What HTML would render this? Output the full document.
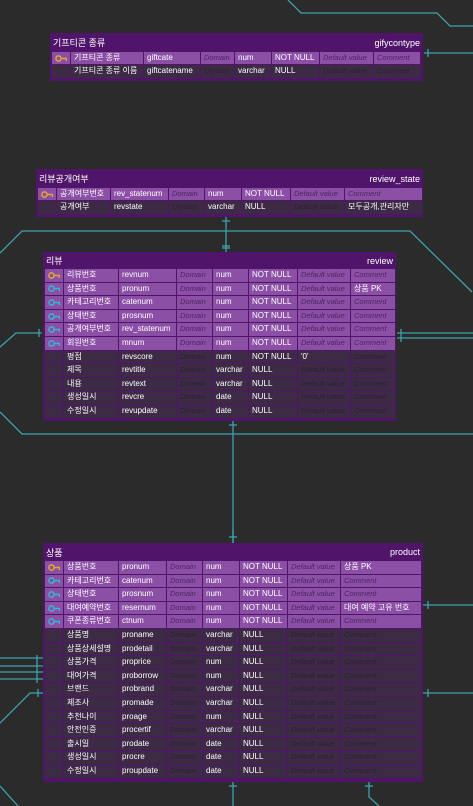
<!DOCTYPE html>
<html><head><meta charset="utf-8"><style>
body{margin:0;width:473px;height:806px;background:#2b2b2b;overflow:hidden;position:relative;font-family:"Liberation Sans","Noto Sans CJK KR",sans-serif;}
svg.c{position:absolute;left:0;top:0}
.t{position:absolute;background:#50156a;padding:0 2px 2px 2px;box-sizing:border-box}
.h{display:flex;justify-content:space-between;align-items:center;color:#fff;font-size:9px;padding:0 1px}
.g{display:grid;row-gap:1px;column-gap:1px}
.g b{font-weight:normal;font-size:8px;color:#fff;white-space:nowrap;overflow:hidden;padding-left:3px;line-height:12.6px;background:#3d2b46}
.g b.k{background:#8c4fa6}
.g b.i{font-style:italic;color:#2d1e33;font-size:7.5px}
.g b.k.i{color:#4d2463}
.g b.ic{padding:0;display:flex;align-items:center;justify-content:center}
</style></head><body>
<svg class="c" width="473" height="806" stroke="#3aa3ad" stroke-width="1.3" fill="none">
<polyline points="288,0 301,13 437,13 450,26 473,26"/>
<line x1="424" y1="53" x2="473" y2="53"/><line x1="428" y1="49" x2="428" y2="57"/>
<line x1="226" y1="217" x2="226" y2="252"/><line x1="222" y1="221" x2="230" y2="221"/><line x1="222" y1="246" x2="230" y2="246"/><line x1="222" y1="248" x2="230" y2="248"/>
<polyline points="0,253 22,231 410,231 472,292"/>
<polyline points="0,347 16,333 42,333"/><line x1="39" y1="329" x2="39" y2="337"/>
<line x1="397" y1="333" x2="473" y2="333"/><line x1="397" y1="338" x2="473" y2="338"/><line x1="401" y1="329" x2="401" y2="342"/>
<line x1="233" y1="421" x2="233" y2="543"/><line x1="229" y1="425" x2="237" y2="425"/><line x1="229" y1="537" x2="237" y2="537"/>
<polyline points="0,412 22,434 473,434"/>
<line x1="0" y1="658" x2="43" y2="658"/><line x1="0" y1="666" x2="43" y2="666"/><line x1="0" y1="672" x2="43" y2="672"/><line x1="0" y1="679" x2="43" y2="679"/>
<line x1="37" y1="655" x2="37" y2="683"/>
<polyline points="0,723 30,693 43,693"/><line x1="38" y1="689" x2="38" y2="697"/>
<line x1="0" y1="786" x2="18" y2="806"/>
<line x1="423" y1="605" x2="473" y2="605"/><line x1="428" y1="601" x2="428" y2="609"/>
<line x1="423" y1="693" x2="473" y2="693"/><line x1="428" y1="689" x2="428" y2="697"/>
<line x1="233" y1="782" x2="233" y2="806"/><line x1="229" y1="786" x2="237" y2="786"/>
<polyline points="369,782 369,797 379,806"/><line x1="365" y1="786" x2="373" y2="786"/>
<line x1="233" y1="530" x2="233" y2="543"/>
</svg>

<!-- gifycontype -->
<div class="t" style="left:50px;top:33px;width:373px;height:48px">
<div class="h" style="height:19px"><span>기프티콘 종류</span><span>gifycontype</span></div>
<div class="g" style="grid-template-columns:18px 72px 56px 33px 36px 47px 53px 46px;grid-auto-rows:12.3px">
<b class="k ic"><svg width="12" height="7"><circle cx="3.5" cy="3.5" r="2.6" fill="none" stroke="#e2a92c" stroke-width="1.5"/><path d="M6 3.5h5.5v2.5" stroke="#e2a92c" stroke-width="1.5" fill="none"/></svg></b><b class="k">기프티콘 종류</b><b class="k">giftcate</b><b class="k i">Domain</b><b class="k">num</b><b class="k">NOT NULL</b><b class="k i">Default value</b><b class="k i">Comment</b>
<b></b><b>기프티콘 종류 이름</b><b>giftcatename</b><b class="i">Domain</b><b>varchar</b><b>NULL</b><b class="i">Default value</b><b class="i">Comment</b>
</div></div>

<!-- review_state -->
<div class="t" style="left:36px;top:169px;width:387px;height:48px">
<div class="h" style="height:19px"><span>리뷰공개여부</span><span>review_state</span></div>
<div class="g" style="grid-template-columns:18px 53px 57px 35px 36px 48px 53px 77px;grid-auto-rows:12.3px">
<b class="k ic"><svg width="12" height="7"><circle cx="3.5" cy="3.5" r="2.6" fill="none" stroke="#e2a92c" stroke-width="1.5"/><path d="M6 3.5h5.5v2.5" stroke="#e2a92c" stroke-width="1.5" fill="none"/></svg></b><b class="k">공개여부번호</b><b class="k">rev_statenum</b><b class="k i">Domain</b><b class="k">num</b><b class="k">NOT NULL</b><b class="k i">Default value</b><b class="k i">Comment</b>
<b></b><b>공개여부</b><b>revstate</b><b class="i">Domain</b><b>varchar</b><b>NULL</b><b class="i">Default value</b><b>모두공개,관리자만</b>
</div></div>

<!-- review -->
<div class="t" style="left:43px;top:252px;width:353px;height:169px">
<div class="h" style="height:17px"><span>리뷰</span><span>review</span></div>
<div class="g" style="grid-template-columns:18px 54px 57px 35px 35px 48px 52px 44px;grid-auto-rows:12.6px">
<b class="k ic"><svg width="12" height="7"><circle cx="3.5" cy="3.5" r="2.6" fill="none" stroke="#e2a92c" stroke-width="1.5"/><path d="M6 3.5h5.5v2.5" stroke="#e2a92c" stroke-width="1.5" fill="none"/></svg></b><b class="k">리뷰번호</b><b class="k">revnum</b><b class="k i">Domain</b><b class="k">num</b><b class="k">NOT NULL</b><b class="k i">Default value</b><b class="k i">Comment</b>
<b class="k ic"><svg width="12" height="7"><circle cx="3.5" cy="3.5" r="2.6" fill="none" stroke="#35b7d6" stroke-width="1.5"/><path d="M6 3.5h5.5v2.5" stroke="#35b7d6" stroke-width="1.5" fill="none"/></svg></b><b class="k">상품번호</b><b class="k">pronum</b><b class="k i">Domain</b><b class="k">num</b><b class="k">NOT NULL</b><b class="k i">Default value</b><b class="k">상품 PK</b>
<b class="k ic"><svg width="12" height="7"><circle cx="3.5" cy="3.5" r="2.6" fill="none" stroke="#35b7d6" stroke-width="1.5"/><path d="M6 3.5h5.5v2.5" stroke="#35b7d6" stroke-width="1.5" fill="none"/></svg></b><b class="k">카테고리번호</b><b class="k">catenum</b><b class="k i">Domain</b><b class="k">num</b><b class="k">NOT NULL</b><b class="k i">Default value</b><b class="k i">Comment</b>
<b class="k ic"><svg width="12" height="7"><circle cx="3.5" cy="3.5" r="2.6" fill="none" stroke="#35b7d6" stroke-width="1.5"/><path d="M6 3.5h5.5v2.5" stroke="#35b7d6" stroke-width="1.5" fill="none"/></svg></b><b class="k">상태번호</b><b class="k">prosnum</b><b class="k i">Domain</b><b class="k">num</b><b class="k">NOT NULL</b><b class="k i">Default value</b><b class="k i">Comment</b>
<b class="k ic"><svg width="12" height="7"><circle cx="3.5" cy="3.5" r="2.6" fill="none" stroke="#35b7d6" stroke-width="1.5"/><path d="M6 3.5h5.5v2.5" stroke="#35b7d6" stroke-width="1.5" fill="none"/></svg></b><b class="k">공개여부번호</b><b class="k">rev_statenum</b><b class="k i">Domain</b><b class="k">num</b><b class="k">NOT NULL</b><b class="k i">Default value</b><b class="k i">Comment</b>
<b class="k ic"><svg width="12" height="7"><circle cx="3.5" cy="3.5" r="2.6" fill="none" stroke="#35b7d6" stroke-width="1.5"/><path d="M6 3.5h5.5v2.5" stroke="#35b7d6" stroke-width="1.5" fill="none"/></svg></b><b class="k">회원번호</b><b class="k">mnum</b><b class="k i">Domain</b><b class="k">num</b><b class="k">NOT NULL</b><b class="k i">Default value</b><b class="k i">Comment</b>
<b></b><b>평점</b><b>revscore</b><b class="i">Domain</b><b>num</b><b>NOT NULL</b><b>'0'</b><b class="i">Comment</b>
<b></b><b>제목</b><b>revtitle</b><b class="i">Domain</b><b>varchar</b><b>NULL</b><b class="i">Default value</b><b class="i">Comment</b>
<b></b><b>내용</b><b>revtext</b><b class="i">Domain</b><b>varchar</b><b>NULL</b><b class="i">Default value</b><b class="i">Comment</b>
<b></b><b>생성일시</b><b>revcre</b><b class="i">Domain</b><b>date</b><b>NULL</b><b class="i">Default value</b><b class="i">Comment</b>
<b></b><b>수정일시</b><b>revupdate</b><b class="i">Domain</b><b>date</b><b>NULL</b><b class="i">Default value</b><b class="i">Comment</b>
</div></div>

<!-- product -->
<div class="t" style="left:43px;top:543px;width:380px;height:239px">
<div class="h" style="height:18px"><span>상품</span><span>product</span></div>
<div class="g" style="grid-template-columns:18px 54px 47px 35px 36px 47px 52px 80px;grid-auto-rows:12.6px">
<b class="k ic"><svg width="12" height="7"><circle cx="3.5" cy="3.5" r="2.6" fill="none" stroke="#e2a92c" stroke-width="1.5"/><path d="M6 3.5h5.5v2.5" stroke="#e2a92c" stroke-width="1.5" fill="none"/></svg></b><b class="k">상품번호</b><b class="k">pronum</b><b class="k i">Domain</b><b class="k">num</b><b class="k">NOT NULL</b><b class="k i">Default value</b><b class="k">상품 PK</b>
<b class="k ic"><svg width="12" height="7"><circle cx="3.5" cy="3.5" r="2.6" fill="none" stroke="#35b7d6" stroke-width="1.5"/><path d="M6 3.5h5.5v2.5" stroke="#35b7d6" stroke-width="1.5" fill="none"/></svg></b><b class="k">카테고리번호</b><b class="k">catenum</b><b class="k i">Domain</b><b class="k">num</b><b class="k">NOT NULL</b><b class="k i">Default value</b><b class="k i">Comment</b>
<b class="k ic"><svg width="12" height="7"><circle cx="3.5" cy="3.5" r="2.6" fill="none" stroke="#35b7d6" stroke-width="1.5"/><path d="M6 3.5h5.5v2.5" stroke="#35b7d6" stroke-width="1.5" fill="none"/></svg></b><b class="k">상태번호</b><b class="k">prosnum</b><b class="k i">Domain</b><b class="k">num</b><b class="k">NOT NULL</b><b class="k i">Default value</b><b class="k i">Comment</b>
<b class="k ic"><svg width="12" height="7"><circle cx="3.5" cy="3.5" r="2.6" fill="none" stroke="#35b7d6" stroke-width="1.5"/><path d="M6 3.5h5.5v2.5" stroke="#35b7d6" stroke-width="1.5" fill="none"/></svg></b><b class="k">대여예약번호</b><b class="k">resernum</b><b class="k i">Domain</b><b class="k">num</b><b class="k">NOT NULL</b><b class="k i">Default value</b><b class="k">대여 예약 고유 번호</b>
<b class="k ic"><svg width="12" height="7"><circle cx="3.5" cy="3.5" r="2.6" fill="none" stroke="#35b7d6" stroke-width="1.5"/><path d="M6 3.5h5.5v2.5" stroke="#35b7d6" stroke-width="1.5" fill="none"/></svg></b><b class="k">쿠폰종류번호</b><b class="k">ctnum</b><b class="k i">Domain</b><b class="k">num</b><b class="k">NOT NULL</b><b class="k i">Default value</b><b class="k i">Comment</b>
<b></b><b>상품명</b><b>proname</b><b class="i">Domain</b><b>varchar</b><b>NULL</b><b class="i">Default value</b><b class="i">Comment</b>
<b></b><b>상품상세설명</b><b>prodetail</b><b class="i">Domain</b><b>varchar</b><b>NULL</b><b class="i">Default value</b><b class="i">Comment</b>
<b></b><b>상품가격</b><b>proprice</b><b class="i">Domain</b><b>num</b><b>NULL</b><b class="i">Default value</b><b class="i">Comment</b>
<b></b><b>대여가격</b><b>proborrow</b><b class="i">Domain</b><b>num</b><b>NULL</b><b class="i">Default value</b><b class="i">Comment</b>
<b></b><b>브랜드</b><b>probrand</b><b class="i">Domain</b><b>varchar</b><b>NULL</b><b class="i">Default value</b><b class="i">Comment</b>
<b></b><b>제조사</b><b>promade</b><b class="i">Domain</b><b>varchar</b><b>NULL</b><b class="i">Default value</b><b class="i">Comment</b>
<b></b><b>추천나이</b><b>proage</b><b class="i">Domain</b><b>num</b><b>NULL</b><b class="i">Default value</b><b class="i">Comment</b>
<b></b><b>안전인증</b><b>procertif</b><b class="i">Domain</b><b>varchar</b><b>NULL</b><b class="i">Default value</b><b class="i">Comment</b>
<b></b><b>출시일</b><b>prodate</b><b class="i">Domain</b><b>date</b><b>NULL</b><b class="i">Default value</b><b class="i">Comment</b>
<b></b><b>생성일시</b><b>procre</b><b class="i">Domain</b><b>date</b><b>NULL</b><b class="i">Default value</b><b class="i">Comment</b>
<b></b><b>수정일시</b><b>proupdate</b><b class="i">Domain</b><b>date</b><b>NULL</b><b class="i">Default value</b><b class="i">Comment</b>
</div></div>
</body></html>
